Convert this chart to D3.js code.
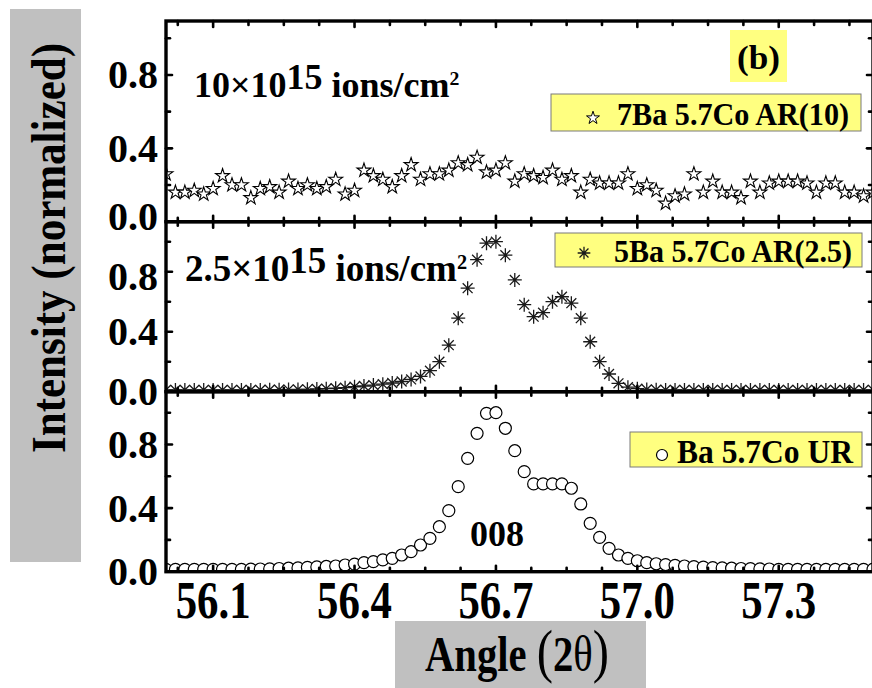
<!DOCTYPE html>
<html><head><meta charset="utf-8">
<script src="https://cdn.jsdelivr.net/npm/d3@7"></script>
<style>
body{margin:0;background:#fff}
svg{display:block}
text{font-family:"Liberation Serif",Tinos,"Times New Roman",Times,serif;font-weight:700;fill:#000}
</style>
</head><body>
<svg id="chart" width="872" height="688"></svg>
<script>
// ---------------- data ----------------
const angles = [56.00,56.02,56.04,56.06,56.08,56.10,56.12,56.14,56.16,56.18,
56.20,56.22,56.24,56.26,56.28,56.30,56.32,56.34,56.36,56.38,
56.40,56.42,56.44,56.46,56.48,56.50,56.52,56.54,56.56,56.58,
56.60,56.62,56.64,56.66,56.68,56.70,56.72,56.74,56.76,56.78,
56.80,56.82,56.84,56.86,56.88,56.90,56.92,56.94,56.96,56.98,
57.00,57.02,57.04,57.06,57.08,57.10,57.12,57.14,57.16,57.18,
57.20,57.22,57.24,57.26,57.28,57.30,57.32,57.34,57.36,57.38,
57.40,57.42,57.44,57.46,57.48,57.50];

// 7Ba 5.7Co AR(10)  (stars)
const ar10 = [0.26,0.16,0.16,0.17,0.15,0.18,0.25,0.20,0.20,0.13,
0.18,0.19,0.16,0.22,0.18,0.20,0.18,0.19,0.23,0.15,
0.17,0.28,0.25,0.23,0.19,0.25,0.31,0.23,0.26,0.26,
0.28,0.32,0.31,0.35,0.27,0.28,0.32,0.22,0.26,0.25,
0.24,0.28,0.23,0.25,0.16,0.23,0.21,0.21,0.21,0.26,
0.18,0.20,0.17,0.10,0.14,0.15,0.26,0.16,0.22,0.16,
0.16,0.13,0.22,0.16,0.21,0.22,0.22,0.22,0.21,0.16,
0.21,0.21,0.16,0.16,0.14,0.16];

// 5Ba 5.7Co AR(2.5)  (asterisks)
const ar25 = [0.012,0.012,0.012,0.012,0.012,0.012,0.012,0.012,0.012,0.012,
0.012,0.013,0.013,0.014,0.015,0.016,0.018,0.020,0.023,0.027,
0.033,0.038,0.044,0.050,0.058,0.068,0.082,0.102,0.140,0.200,
0.310,0.490,0.690,0.880,0.990,1.000,0.910,0.745,0.580,0.500,
0.527,0.600,0.633,0.590,0.490,0.333,0.200,0.118,0.056,0.030,
0.020,0.015,0.013,0.012,0.012,0.012,0.012,0.012,0.012,0.012,
0.012,0.012,0.012,0.012,0.012,0.012,0.012,0.012,0.012,0.012,
0.012,0.012,0.012,0.012,0.012,0.012];

// Ba 5.7Co UR  (circles)
const ur = [0.015,0.015,0.015,0.015,0.015,0.015,0.015,0.015,0.015,0.016,
0.017,0.018,0.020,0.022,0.024,0.027,0.030,0.033,0.036,0.042,
0.048,0.057,0.063,0.074,0.084,0.105,0.126,0.168,0.210,0.283,
0.384,0.535,0.713,0.870,0.996,1.000,0.902,0.761,0.629,0.552,
0.552,0.552,0.552,0.525,0.426,0.304,0.216,0.147,0.105,0.084,
0.069,0.057,0.050,0.045,0.040,0.036,0.032,0.029,0.026,0.024,
0.022,0.020,0.019,0.018,0.017,0.015,0.015,0.015,0.015,0.015,
0.015,0.015,0.015,0.015,0.015,0.015];

const seriesNames = ["7Ba 5.7Co AR(10)", "5Ba 5.7Co AR(2.5)", "Ba 5.7Co UR"];
const doseLabels = [["10×10", "15", " ions/cm", "2"], ["2.5×10", "15", " ions/cm", "2"]];
const peakLabel = "008";
const panelLabel = "(b)";
const xTicks = [56.1, 56.4, 56.7, 57.0, 57.3];
const xTickLabels = ["56.1", "56.4", "56.7", "57.0", "57.3"];
const yTicks = [0, 0.4, 0.8];
const yTickLabels = ["0.0", "0.4", "0.8"];
const yMinorTicks = [0.2, 0.6, 1.0];
const xTitle = "Angle ";
const yTitle = "Intensity (normalized)";

// ---------------- layout ----------------
const svg = d3.select("#chart");
const X0 = 166, X1 = 873;
const x = d3.scaleLinear().domain([56.0, 57.5]).range([X0, X1]);
const xMinorTicks = d3.range(56.025, 57.55, 0.075).filter(v => !xTicks.some(t => Math.abs(t - v) < 1e-6));

const panels = [
  {top: 21, zero: 221.7, ppu: 183.4, data: ar10, kind: "star"},
  {top: 221.7, zero: 391.7, ppu: 150, data: ar25, kind: "asterisk"},
  {top: 391.7, zero: 571.7, ppu: 159, data: ur, kind: "circle"}
];
panels.forEach(p => {
  p.y = d3.scaleLinear().domain([0, (p.zero - p.top) / p.ppu]).range([p.zero, p.top]);
});

const asteriskType = {
  draw(ctx, size) {
    const r = Math.sqrt(size) / 2, a = r * Math.SQRT1_2;
    ctx.moveTo(0, -r); ctx.lineTo(0, r);
    ctx.moveTo(-r, 0); ctx.lineTo(r, 0);
    ctx.moveTo(-a, -a); ctx.lineTo(a, a);
    ctx.moveTo(-a, a); ctx.lineTo(a, -a);
  }
};
const starPath = d3.symbol().type(d3.symbolStar).size(60)();
const astPath = d3.symbol().type(asteriskType).size(196)();
const starLegend = d3.symbol().type(d3.symbolStar).size(52)();
const astLegend = d3.symbol().type(asteriskType).size(160)();

// grey title boxes
svg.append("rect").attr("x", 10).attr("y", 9).attr("width", 71).attr("height", 553).attr("fill", "#c0c0c0");
svg.append("rect").attr("x", 395).attr("y", 621).attr("width", 251).attr("height", 70).attr("fill", "#c0c0c0");

const defs = svg.append("defs");

panels.forEach((p, i) => {
  defs.append("clipPath").attr("id", "clip" + i).append("rect")
    .attr("x", X0).attr("y", p.top).attr("width", X1 - X0).attr("height", p.zero - p.top);
  const g = svg.append("g").attr("clip-path", `url(#clip${i})`);
  const pts = angles.map((a, k) => [a, p.data[k]]);
  if (p.kind === "star") {
    g.selectAll("path").data(pts).join("path")
      .attr("d", starPath)
      .attr("transform", d => `translate(${x(d[0])},${p.y(d[1])})`)
      .attr("fill", "#fff").attr("stroke", "#000").attr("stroke-width", 1.1);
  } else if (p.kind === "asterisk") {
    g.selectAll("path").data(pts).join("path")
      .attr("d", astPath)
      .attr("transform", d => `translate(${x(d[0])},${p.y(d[1])})`)
      .attr("fill", "none").attr("stroke", "#1a1a1a").attr("stroke-width", 1.3);
  } else {
    g.selectAll("circle").data(pts).join("circle")
      .attr("cx", d => x(d[0])).attr("cy", d => p.y(d[1])).attr("r", 6)
      .attr("fill", "#fff").attr("stroke", "#000").attr("stroke-width", 1.2);
  }
});

// frames and ticks
const axG = svg.append("g");
panels.forEach((p, i) => {
  const tk = (x1, y1, x2, y2) => axG.append("line").attr("x1", x1).attr("y1", y1).attr("x2", x2).attr("y2", y2)
    .attr("stroke", "#000").attr("stroke-width", 2.6).attr("stroke-linecap", "round");
  xTicks.forEach(t => { tk(x(t), p.zero, x(t), p.zero - 6); tk(x(t), p.top, x(t), p.top + 6); });
  xMinorTicks.forEach(t => { tk(x(t), p.zero, x(t), p.zero - 4); tk(x(t), p.top, x(t), p.top + 4); });
  yTicks.forEach(t => { tk(X0, p.y(t), X0 + 6, p.y(t)); tk(X1, p.y(t), X1 - 6, p.y(t)); });
  yMinorTicks.forEach(t => { tk(X0, p.y(t), X0 + 4, p.y(t)); tk(X1, p.y(t), X1 - 4, p.y(t)); });
  axG.append("rect").attr("x", X0).attr("y", p.top).attr("width", X1 - X0).attr("height", p.zero - p.top)
    .attr("fill", "none").attr("stroke", "#000").attr("stroke-width", 3.4);
  // y tick labels
  yTicks.forEach((t, k) => {
    let shift = 0;
    if (i === 0 && t === 0) shift = -5;
    if (i === 1 && t === 0.8) shift = 5;
    svg.append("text").attr("x", 158).attr("y", p.y(t) + 13.5 + shift)
      .attr("text-anchor", "end").attr("font-size", 40).text(yTickLabels[k]);
  });
});

// x tick labels
xTicks.forEach((t, k) => {
  svg.append("text").attr("x", x(t) - 37.5).attr("y", 618)
    .attr("font-size", 53).attr("textLength", 75).attr("lengthAdjust", "spacingAndGlyphs")
    .text(xTickLabels[k]);
});

// axis titles
svg.append("text").attr("transform", "translate(65,248) rotate(-90)")
  .attr("text-anchor", "middle").attr("font-size", 48)
  .attr("textLength", 410).attr("lengthAdjust", "spacingAndGlyphs").text(yTitle);
const xt = svg.append("text").attr("x", 425).attr("y", 671).attr("font-size", 50)
  .attr("textLength", 184).attr("lengthAdjust", "spacingAndGlyphs");
xt.append("tspan").text(xTitle);
xt.append("tspan").attr("font-size", 60).attr("font-weight", "normal").text("(");
xt.append("tspan").text("2");
xt.append("tspan").attr("font-weight", "normal").text("θ");
xt.append("tspan").attr("font-size", 60).attr("font-weight", "normal").text(")");

// panel label (b)
svg.append("rect").attr("x", 730).attr("y", 30).attr("width", 57).attr("height", 52).attr("fill", "#ffff80");
svg.append("text").attr("x", 737).attr("y", 69).attr("font-size", 34)
  .attr("textLength", 43).attr("lengthAdjust", "spacingAndGlyphs").text(panelLabel);

// legends
const legendBoxes = [
  {x: 551, y: 94, w: 310, h: 37, sx: 593, sy: 118, tx: 617, ty: 125, tl: 232, fs: 32},
  {x: 555, y: 233, w: 307, h: 34, sx: 584, sy: 253, tx: 614, ty: 262, tl: 238, fs: 32},
  {x: 630, y: 432, w: 232, h: 35, sx: 662, sy: 455, tx: 677, ty: 463, tl: 176, fs: 33}
];
legendBoxes.forEach((b, i) => {
  svg.append("rect").attr("x", b.x).attr("y", b.y).attr("width", b.w).attr("height", b.h)
    .attr("fill", "#ffff80").attr("stroke", "#7a7a7a").attr("stroke-width", 1);
  if (i === 0) svg.append("path").attr("d", starLegend).attr("transform", `translate(${b.sx},${b.sy})`)
    .attr("fill", "#fff").attr("stroke", "#000").attr("stroke-width", 1);
  if (i === 1) svg.append("path").attr("d", astLegend).attr("transform", `translate(${b.sx},${b.sy})`)
    .attr("fill", "none").attr("stroke", "#1a1a1a").attr("stroke-width", 1.3);
  if (i === 2) svg.append("circle").attr("cx", b.sx).attr("cy", b.sy).attr("r", 5.5)
    .attr("fill", "#fff").attr("stroke", "#000").attr("stroke-width", 1.2);
  svg.append("text").attr("x", b.tx).attr("y", b.ty).attr("font-size", b.fs)
    .attr("textLength", b.tl).attr("lengthAdjust", "spacingAndGlyphs").text(seriesNames[i]);
});

// dose annotations
const doseSpots = [{x: 194, y: 97, fs: 36}, {x: 185, y: 281, fs: 37}];
doseLabels.forEach((parts, i) => {
  const s = doseSpots[i];
  const t = svg.append("text").attr("x", s.x).attr("y", s.y).attr("font-size", s.fs);
  t.append("tspan").text(parts[0]);
  t.append("tspan").attr("dy", -8).text(parts[1]);
  t.append("tspan").attr("dy", 8).text(parts[2]);
  t.append("tspan").attr("dy", -12).attr("font-size", s.fs * 0.55).text(parts[3]);
});

// peak label
svg.append("text").attr("x", 497).attr("y", 546).attr("text-anchor", "middle")
  .attr("font-size", 36).text(peakLabel);
</script>
</body></html>
